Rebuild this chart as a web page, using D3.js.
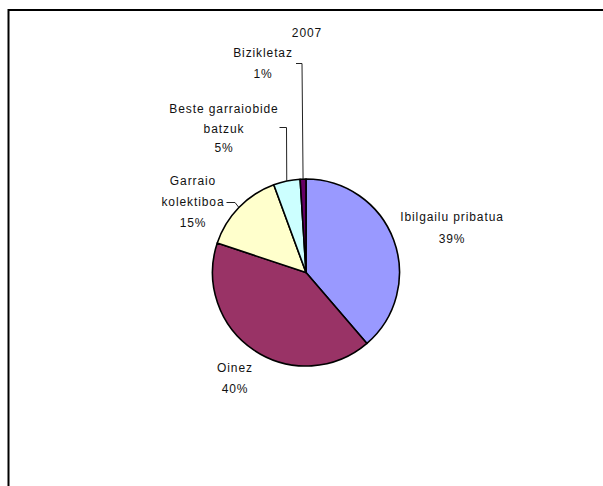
<!DOCTYPE html>
<html><head><meta charset="utf-8">
<script src="https://cdn.jsdelivr.net/npm/d3@7"></script>
<style>
html,body{margin:0;padding:0;background:#fff;}
text{font-family:"Liberation Sans",Arial,sans-serif;font-size:12px;fill:#111;letter-spacing:0.9px;}
</style></head><body>
<svg id="c" width="603" height="486"></svg>
<script>
const title = "2007";
const categories = ["Ibilgailu pribatua", "Oinez", "Garraio kolektiboa", "Beste garraiobide batzuk", "Bizikletaz"];
const values = [38.7, 41.4, 14.3, 4.6, 1.0];
const percentLabels = ["39%", "40%", "15%", "5%", "1%"];
const colors = ["#9999FF", "#993366", "#FFFFCC", "#CCFFFF", "#660066"];
// label layout: lines of text, center x, first baseline, line gap
const labelLines = [["Ibilgailu pribatua", "39%"], ["Oinez", "40%"], ["Garraio", "kolektiboa", "15%"], ["Beste garraiobide", "batzuk", "5%"], ["Bizikletaz", "1%"]];
const labelPos = [[452, 221, 22], [235, 371.5, 21.5], [193, 185, 21], [224, 113, 19.7], [263, 56.7, 21.6]];
// leader: start point and elbow (null = none)
const leaders = [null, null, [[226.5, 202.5], [235, 202.5]], [[279.5, 127.5], [286.5, 127.5]], [[296, 63.5], [302, 63.5]]];

const svg = d3.select("#c");
svg.append("path").attr("d", "M8.5,486V10H603").attr("fill", "none").attr("stroke", "#000").attr("stroke-width", 2);

const cx = 306, cy = 272.5, r = 93.5;
const g = svg.append("g").attr("transform", `translate(${cx},${cy})`);
const pie = d3.pie().sort(null).value(d => d)(values);
const arc = d3.arc().innerRadius(0).outerRadius(r);
const edge = d3.arc().innerRadius(r).outerRadius(r);

g.selectAll("path.s").data(pie).enter().append("path")
  .attr("class", "s").attr("d", arc)
  .attr("fill", (d, i) => colors[i])
  .attr("stroke", "#000").attr("stroke-width", 1.6).attr("stroke-linejoin", "round");

pie.forEach((d, i) => {
  const L = leaders[i];
  if (!L) return;
  const p = edge.centroid(d);
  const pts = L.concat([[p[0] + cx, p[1] + cy]]);
  svg.append("path").attr("d", d3.line()(pts)).attr("fill", "none").attr("stroke", "#222").attr("stroke-width", 1);
});

svg.append("text").attr("x", 307).attr("y", 37).attr("text-anchor", "middle").text(title);

labelLines.forEach((lines, i) => {
  const [x, y0, gap] = labelPos[i];
  const t = svg.append("text").attr("text-anchor", "middle");
  lines.forEach((s, k) => {
    const txt = k === lines.length - 1 ? percentLabels[i] : s;
    t.append("tspan").attr("x", x).attr("y", y0 + k * gap).text(txt);
  });
});
</script>
</body></html>
